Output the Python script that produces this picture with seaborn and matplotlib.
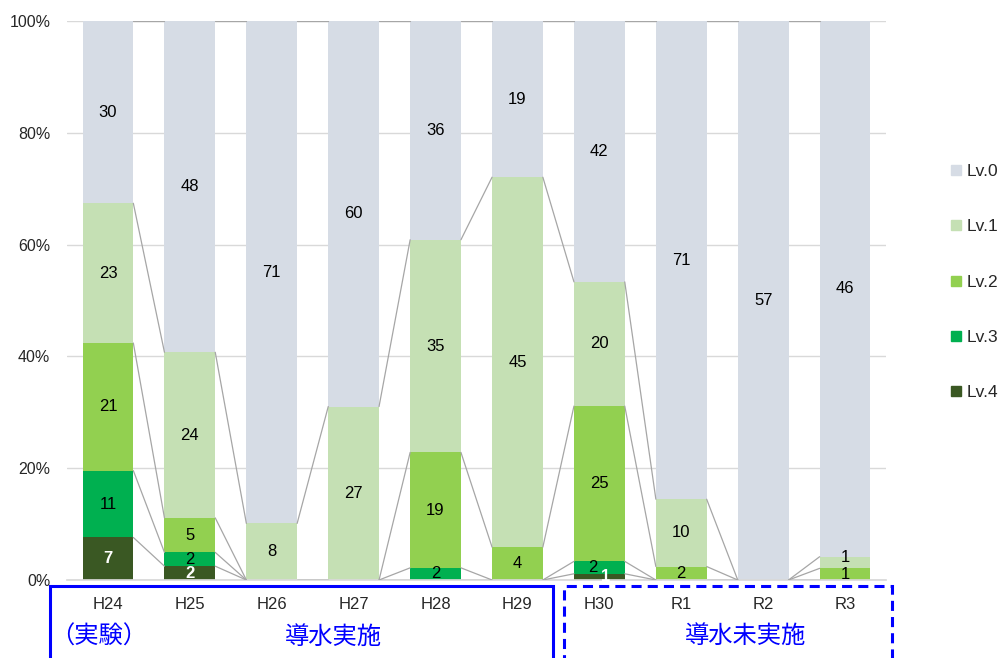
import numpy as np
import pandas as pd
import matplotlib
matplotlib.use("Agg")
import matplotlib.pyplot as plt
from matplotlib.patches import Rectangle
from matplotlib.lines import Line2D
import seaborn as sns

# Survey years and counts per level
years = ["H24", "H25", "H26", "H27", "H28", "H29", "H30", "R1", "R2", "R3"]
lv0 = [30, 48, 71, 60, 36, 19, 42, 71, 57, 46]
lv1 = [23, 24, 8, 27, 35, 45, 20, 10, 0, 1]
lv2 = [21, 5, 0, 0, 19, 4, 25, 2, 0, 1]
lv3 = [11, 2, 0, 0, 2, 0, 2, 0, 0, 0]
lv4 = [7, 2, 0, 0, 0, 0, 1, 0, 0, 0]
level_names = ["Lv.0", "Lv.1", "Lv.2", "Lv.3", "Lv.4"]
level_colors = ["#d6dce5", "#c5e0b4", "#92d050", "#00b050", "#3a5823"]
y_ticks = [0, 20, 40, 60, 80, 100]
group_labels = ["（実験）", "導水実施", "導水未実施"]

sns.set_theme(style="white")
plt.rcParams["font.family"] = ["Liberation Sans", "Noto Sans CJK JP", "DejaVu Sans"]

counts = np.array([lv0, lv1, lv2, lv3, lv4], dtype=float)
totals = counts.sum(axis=0)
pct = counts / totals * 100
# cumulative top of each level, stacking Lv.4 at the bottom
stack_order = [4, 3, 2, 1, 0]
tops = {}
bottoms = {}
run = np.zeros(len(years))
for k in stack_order:
    bottoms[k] = run.copy()
    run = run + pct[k]
    tops[k] = run.copy()

fig = plt.figure(figsize=(10.04, 6.58), dpi=100)
W, H = 1004, 658
ax = fig.add_axes([67 / W, 1 - 580 / H, (886 - 67) / W, (580 - 21) / H])

bar_w = 0.62
df = pd.DataFrame({"year": years})
for k in range(5):  # tallest cumulative first so lower levels overlay it
    df["v"] = tops[k]
    sns.barplot(data=df, x="year", y="v", color=level_colors[k], width=bar_w,
                saturation=1, ax=ax, zorder=2, linewidth=0)

# series lines between adjacent bars
xs = np.arange(len(years))
for k in stack_order:
    for i in range(len(years) - 1):
        ax.plot([xs[i] + bar_w / 2, xs[i + 1] - bar_w / 2],
                [tops[k][i], tops[k][i + 1]], color="#a6a6a6", lw=0.9, zorder=3)

# value labels; tiny neighbouring segments get nudged apart (dx, dy)
nudge = {(6, 3): (-0.08, 0), (6, 4): (0.08, 0), (9, 1): (0, 0.9)}
for k in range(5):
    for i in range(len(years)):
        c = counts[k][i]
        if c > 0:
            white = (k == 4)
            dx, dy = nudge.get((i, k), (0, 0))
            ax.text(xs[i] + dx, bottoms[k][i] + pct[k][i] / 2 + dy,
                    f"{int(c)}", ha="center", va="center", fontsize=12,
                    color="white" if white else "black",
                    fontweight="bold" if white else "normal", zorder=4)

ax.set_ylim(0, 100)
ax.set_xlim(-0.5, len(years) - 0.5)
ax.set_yticks(y_ticks)
ax.set_yticklabels([f"{t}%" for t in y_ticks], fontsize=11.5)
ax.yaxis.grid(True, color="#d9d9d9", lw=1, zorder=0)
ax.set_axisbelow(True)
for s in ["top", "right", "left"]:
    ax.spines[s].set_visible(False)
ax.spines["bottom"].set_color("#d9d9d9")
ax.tick_params(axis="both", length=0)
ax.tick_params(axis="x", pad=12, labelsize=12)
ax.tick_params(axis="y", pad=12)
ax.set_xlabel("")
ax.set_ylabel("")

# legend
handles = [Line2D([], [], marker="s", linestyle="", markersize=7,
                  color=level_colors[k]) for k in range(5)]
fig.legend(handles, level_names, loc="center left",
           bbox_to_anchor=(940 / W, 1 - 282 / H), frameon=False,
           fontsize=12.5, labelspacing=2.3, handlelength=0.8,
           handletextpad=0.25, borderpad=0)

# period boxes below the axis
blue = "#0000ff"
fig.patches.append(Rectangle((50 / W, -0.05), (553 - 50) / W, 0.05 + 1 - 586 / H,
                             transform=fig.transFigure, fill=False,
                             edgecolor=blue, lw=2.2))
fig.patches.append(Rectangle((564 / W, -0.05), (892 - 564) / W, 0.05 + 1 - 586 / H,
                             transform=fig.transFigure, fill=False,
                             edgecolor=blue, lw=2.2, linestyle=(0, (3.3, 2))))
fig.text(99 / W, 1 - 637 / H, group_labels[0], ha="center", va="center",
         fontsize=17.5, color=blue)
fig.text(333 / W, 1 - 637 / H, group_labels[1], ha="center", va="center",
         fontsize=17.5, color=blue)
fig.text(746 / W, 1 - 636 / H, group_labels[2], ha="center", va="center",
         fontsize=17.5, color=blue)

fig.savefig("out.png", dpi=100)
